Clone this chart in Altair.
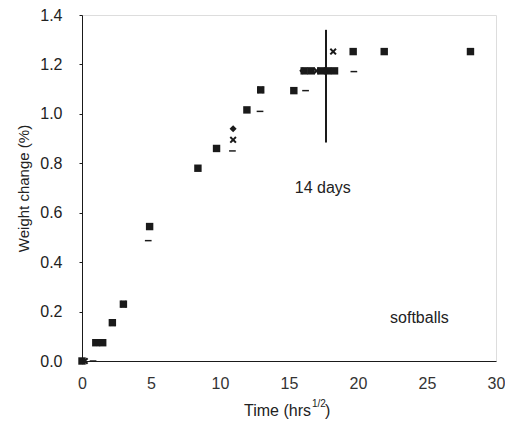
import altair as alt
import pandas as pd

# Series (time in hrs^1/2, weight change in %)
sq_x = [0.0, 1.0, 1.5, 2.2, 3.0, 4.9, 8.4, 9.75, 11.95, 12.95, 15.35, 16.1, 16.6, 17.3, 17.8, 18.3, 19.65, 21.9, 28.15]
sq_y = [0.0, 0.074, 0.074, 0.155, 0.23, 0.544, 0.78, 0.86, 1.016, 1.097, 1.094, 1.174, 1.174, 1.174, 1.174, 1.174, 1.252, 1.252, 1.252]

xm_x = [0.2, 1.2, 2.2, 3.0, 10.95, 12.95, 17.0, 18.2]
xm_y = [0.0, 0.074, 0.155, 0.23, 0.895, 1.097, 1.174, 1.252]

da_x = [0.8, 4.8, 10.9, 12.9, 16.2, 19.7]
da_y = [0.0, 0.487, 0.85, 1.01, 1.094, 1.171]

di_x = [10.95, 16.0, 17.6]
di_y = [0.94, 1.174, 1.174]

line_x = [17.68]
line_y1 = [0.884]
line_y2 = [1.34]

notes = ["14 days", "softballs"]
note_x = [17.45, 24.45]
note_y = [0.70, 0.173]

x_ticks = [0, 5, 10, 15, 20, 25, 30]
y_ticks = [0.0, 0.2, 0.4, 0.6, 0.8, 1.0, 1.2, 1.4]

INK = "#1a1a1a"
FONT = "Liberation Sans"

xs = alt.Scale(domain=[0, 30], nice=False)
ys = alt.Scale(domain=[0, 1.4], nice=False)

xaxis = alt.Axis(values=x_ticks, tickSize=0, labelPadding=14, labelFontSize=16,
                 labelFont=FONT, labelColor="#333", grid=False, domainColor=INK,
                 labelFlush=False, title=None)
yaxis = alt.Axis(values=y_ticks, format=".1f", tickSize=3, labelPadding=17,
                 labelFontSize=16, labelFont=FONT, labelColor="#222", grid=False,
                 domainColor=INK, tickColor=INK, labelFlush=False,
                 title="Weight change (%)", titleFont=FONT, titleFontSize=15,
                 titleFontWeight="normal", titleColor="#222", titlePadding=8)

def pts(xv, yv, shape, size):
    df = pd.DataFrame({"x": xv, "y": yv})
    return alt.Chart(df).mark_point(shape=shape, filled=True, color=INK,
                                    size=size, opacity=1).encode(
        x=alt.X("x:Q", scale=xs, axis=xaxis),
        y=alt.Y("y:Q", scale=ys, axis=yaxis),
    )

XSHAPE = "M-1,-0.6L-0.6,-1L0,-0.4L0.6,-1L1,-0.6L0.4,0L1,0.6L0.6,1L0,0.4L-0.6,1L-1,0.6L-0.4,0Z"
DASH = "M-1,-0.22L1,-0.22L1,0.22L-1,0.22Z"

squares = pts(sq_x, sq_y, "square", 55)
xmarks = pts(xm_x, xm_y, XSHAPE, 50)
dashes = pts(da_x, da_y, DASH, 45)
diamonds = pts(di_x, di_y, "diamond", 50)

vline = alt.Chart(pd.DataFrame({"x": line_x, "y": line_y1, "y2": line_y2})).mark_rule(
    color=INK, strokeWidth=2).encode(x=alt.X("x:Q", scale=xs), y=alt.Y("y:Q", scale=ys), y2="y2:Q")

labels = alt.Chart(pd.DataFrame({"t": notes, "x": note_x, "y": note_y})).mark_text(
    font=FONT, fontSize=16, color="#222", align="center", baseline="middle").encode(
    x=alt.X("x:Q", scale=xs), y=alt.Y("y:Q", scale=ys), text="t:N")

title_main = alt.Chart(pd.DataFrame({"t": ["Time (hrs"]})).mark_text(
    font=FONT, fontSize=16, color="#222", align="right", baseline="middle").encode(
    x=alt.value(229), y=alt.value(396), text="t:N")
title_sup = alt.Chart(pd.DataFrame({"t": ["1/2"]})).mark_text(
    font=FONT, fontSize=10, color="#222", align="left", baseline="middle").encode(
    x=alt.value(230), y=alt.value(389), text="t:N")
title_end = alt.Chart(pd.DataFrame({"t": [")"]})).mark_text(
    font=FONT, fontSize=16, color="#222", align="left", baseline="middle").encode(
    x=alt.value(243), y=alt.value(396), text="t:N")

chart = alt.layer(vline, squares, xmarks, dashes, diamonds, labels,
                  title_main, title_sup, title_end).properties(
    width=414, height=346,
    autosize=alt.AutoSizeParams(type="none"),
    padding={"left": 74, "top": 7, "right": 9, "bottom": 70},
).configure_view(stroke="#444", strokeWidth=1).configure(background="white")

chart.save("out.html", embed_options={"renderer": "svg", "actions": False})
